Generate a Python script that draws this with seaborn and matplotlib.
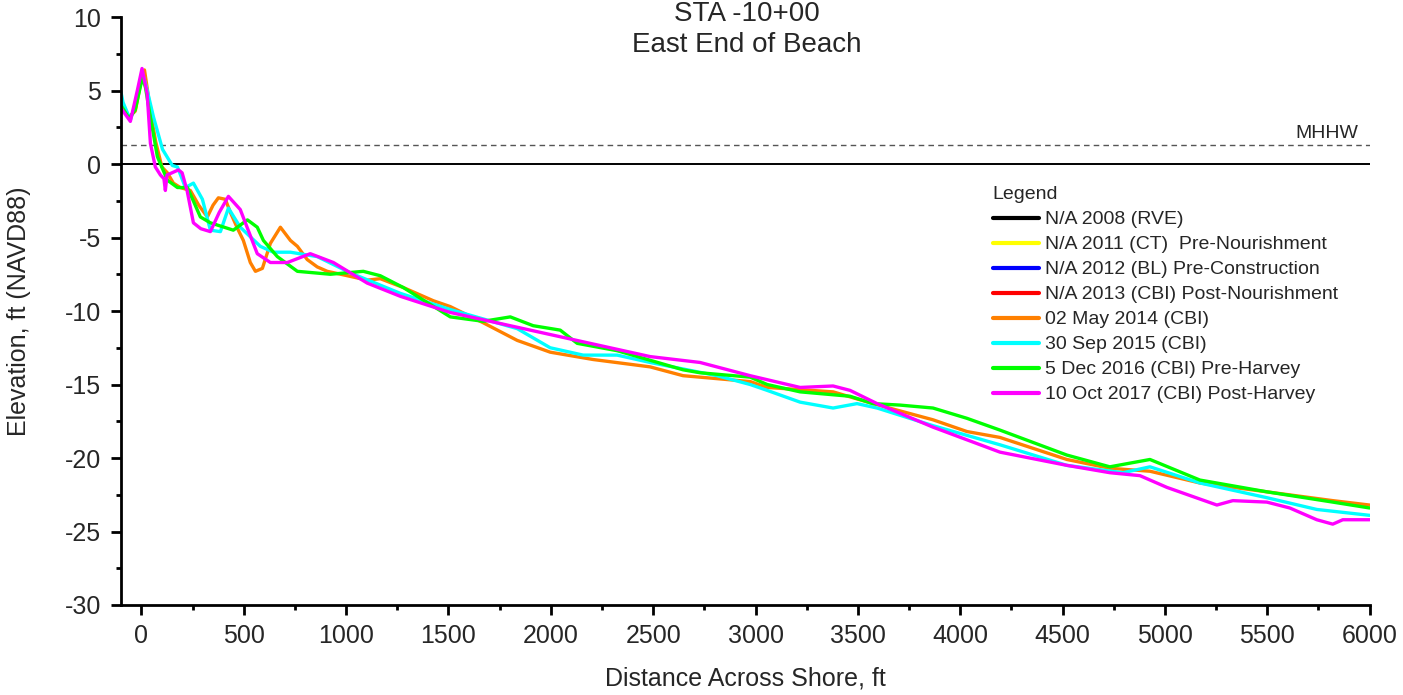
import pandas as pd
import seaborn as sns
import matplotlib.pyplot as plt
from matplotlib.lines import Line2D
from matplotlib.ticker import MultipleLocator

# survey profiles (distance ft, elevation ft NAVD88)
may2014_x = [-100, -60, -30, 0, 15, 30, 45, 70, 100, 127, 156, 190, 239, 280, 322, 350, 376, 410, 435, 470,
             498, 532, 557, 591, 630, 679, 728, 762, 810, 859, 908, 1006, 1103, 1167, 1279, 1426, 1509, 1670,
             1836, 1997, 2207, 2485, 2646, 2729, 2974, 3057, 3379, 3574, 3867, 4033, 4194, 4521, 4731, 4927,
             5171, 5498, 5820, 6000]
may2014_y = [3.9, 3.2, 3.6, 5.8, 6.4, 5.0, 3.5, 1.5, -0.2, -0.6, -1.3, -1.6, -1.8, -2.8, -3.6, -2.8, -2.3, -2.4,
             -3.3, -4.4, -5.2, -6.7, -7.3, -7.1, -5.4, -4.3, -5.2, -5.6, -6.5, -7.0, -7.3, -7.6, -7.9, -7.8, -8.4,
             -9.3, -9.7, -10.8, -12.0, -12.8, -13.3, -13.8, -14.4, -14.5, -14.8, -15.2, -15.5, -16.3, -17.4,
             -18.2, -18.6, -20.1, -20.7, -20.9, -21.7, -22.3, -22.9, -23.2]

sep2015_x = [-100, -90, -54, -20, 5, 25, 59, 103, 151, 176, 215, 254, 298, 337, 386, 425, 483, 581, 645, 728,
             859, 1020, 1265, 1509, 1836, 1997, 2158, 2324, 2485, 2812, 2974, 3057, 3218, 3379, 3496, 3594,
             3867, 4194, 4521, 4795, 4927, 5171, 5498, 5742, 6000]
sep2015_y = [4.9, 4.2, 3.0, 4.5, 6.2, 5.2, 3.2, 1.0, -0.1, -0.2, -1.6, -1.3, -2.4, -4.5, -4.6, -3.0, -4.3, -5.6,
             -6.0, -6.0, -6.3, -7.4, -8.8, -9.9, -11.2, -12.5, -13.0, -13.0, -13.5, -14.4, -15.0, -15.4, -16.2,
             -16.6, -16.3, -16.6, -17.8, -19.1, -20.5, -21.0, -20.6, -21.7, -22.7, -23.5, -23.9]

dec2016_x = [-100, -60, -30, 5, 20, 40, 78, 127, 176, 225, 288, 337, 449, 518, 566, 596, 664, 762, 923, 1084,
             1167, 1279, 1348, 1509, 1670, 1802, 1914, 2046, 2129, 2324, 2646, 2729, 2974, 3057, 3218, 3462,
             3574, 3706, 3867, 4033, 4194, 4521, 4731, 4927, 5171, 5498, 5820, 6000]
dec2016_y = [4.0, 3.1, 3.7, 5.9, 5.2, 3.5, 0.5, -1.1, -1.6, -1.6, -3.6, -4.0, -4.5, -3.8, -4.3, -5.2, -6.3, -7.3,
             -7.5, -7.3, -7.6, -8.4, -9.0, -10.4, -10.7, -10.4, -11.0, -11.3, -12.2, -12.7, -14.0, -14.2, -14.5,
             -15.0, -15.5, -15.8, -16.3, -16.4, -16.6, -17.3, -18.1, -19.8, -20.6, -20.1, -21.5, -22.3, -23.0,
             -23.4]

oct2017_x = [-100, -54, -20, 3, 28, 44, 68, 93, 110, 117, 125, 181, 199, 223, 254, 290, 337, 380, 425, 483,
             566, 630, 713, 825, 938, 1103, 1265, 1509, 1997, 2485, 2729, 2974, 3218, 3379, 3462, 3594, 3867,
             4194, 4521, 4731, 4878, 5010, 5254, 5332, 5498, 5610, 5742, 5820, 5869, 6000]
oct2017_y = [3.8, 2.9, 5.0, 6.5, 4.8, 1.4, -0.2, -0.75, -1.0, -1.8, -0.75, -0.4, -0.6, -1.8, -4.0, -4.4, -4.6,
             -3.3, -2.2, -3.1, -6.1, -6.7, -6.7, -6.1, -6.7, -8.1, -9.0, -10.1, -11.6, -13.1, -13.5, -14.4,
             -15.2, -15.1, -15.4, -16.3, -17.9, -19.6, -20.5, -21.0, -21.2, -22.0, -23.2, -22.9, -23.0, -23.4,
             -24.2, -24.5, -24.2, -24.2]

labels = ["N/A 2008 (RVE)", "N/A 2011 (CT)  Pre-Nourishment", "N/A 2012 (BL) Pre-Construction",
          "N/A 2013 (CBI) Post-Nourishment", "02 May 2014 (CBI)", "30 Sep 2015 (CBI)",
          "5 Dec 2016 (CBI) Pre-Harvey", "10 Oct 2017 (CBI) Post-Harvey"]
colors = ["#000000", "#FFFF00", "#0000FF", "#FF0000", "#FF8000", "#00FFFF", "#00FF00", "#FF00FF"]
mhhw = 1.3

# long form table, only the surveys that have data
surveys = [(labels[4], may2014_x, may2014_y), (labels[5], sep2015_x, sep2015_y),
           (labels[6], dec2016_x, dec2016_y), (labels[7], oct2017_x, oct2017_y)]
frames = []
for name, xs, ys in surveys:
    frames.append(pd.DataFrame({"distance": xs, "elevation": ys, "survey": name}))
df = pd.concat(frames, ignore_index=True)

sns.set_style("ticks")
plt.rcParams['font.family'] = ['Liberation Sans', 'DejaVu Sans']
plt.rcParams['axes.unicode_minus'] = False

fig = plt.figure(figsize=(14.03, 6.95), dpi=100)
ax = fig.add_axes([0.0862, 0.1295, 0.890, 0.846])

ax.axhline(0, color="black", lw=1.4, zorder=1)
ax.axhline(mhhw, color="#555555", lw=1.0, ls=(0, (4, 3)), zorder=1)
ax.text(5790, 1.75, "MHHW", ha="center", va="baseline", fontsize=14)

sns.lineplot(data=df, x="distance", y="elevation", hue="survey", hue_order=labels[4:],
             palette=colors[4:], sort=False, estimator=None, linewidth=2.4, legend=False, ax=ax)

ax.set_xlim(-100, 6000)
ax.set_ylim(-30, 10)
ax.xaxis.set_major_locator(MultipleLocator(500))
ax.xaxis.set_minor_locator(MultipleLocator(250))
ax.yaxis.set_major_locator(MultipleLocator(5))
ax.yaxis.set_minor_locator(MultipleLocator(2.5))
ax.tick_params(which="major", direction="out", length=7.5, width=2, labelsize=18, color="black")
ax.tick_params(which="minor", direction="out", length=3.8, width=2, color="black")
ax.tick_params(axis="x", which="major", pad=6)
ax.tick_params(axis="y", which="major", pad=7)
for s in ["top", "right"]:
    ax.spines[s].set_visible(False)
for s in ["left", "bottom"]:
    ax.spines[s].set_linewidth(2)
    ax.spines[s].set_color("black")

ax.set_xlabel("Distance Across Shore, ft", fontsize=18)
ax.set_ylabel("Elevation, ft (NAVD88)", fontsize=18)
ax.xaxis.set_label_coords(0.5, -0.105)
ax.yaxis.set_label_coords(-0.072, 0.5)

fig.text(0.532, 0.970, "STA -10+00", ha="center", va="baseline", fontsize=20)
fig.text(0.532, 0.925, "East End of Beach", ha="center", va="baseline", fontsize=20)

handles = [Line2D([], [], color=c, lw=3) for c in colors]
leg = ax.legend(handles, labels, title="Legend", loc="upper left", bbox_to_anchor=(0.698, 0.712),
                frameon=False, fontsize=14, title_fontsize=14, handlelength=2.4,
                handletextpad=0.3, labelspacing=0.38, borderpad=0, borderaxespad=0, alignment="left")

plt.savefig("out.png", dpi=100)
